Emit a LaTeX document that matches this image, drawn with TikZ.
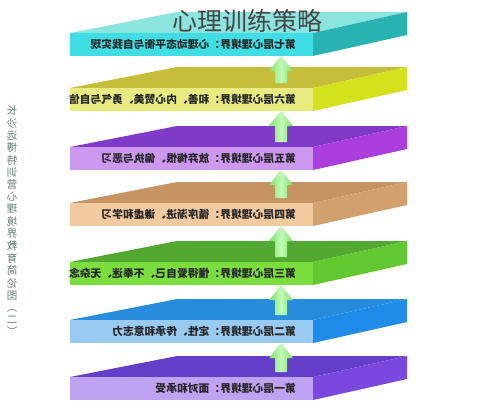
\documentclass[tikz,border=0pt]{standalone}
\usepackage{fontspec}
\newfontfamily\cjk{Noto Sans CJK SC}
\definecolor{cyTop}{RGB}{140,228,222}
\definecolor{cyFront}{RGB}{62,222,228}
\definecolor{cySide}{RGB}{40,178,178}
\definecolor{yeTop}{RGB}{198,190,58}
\definecolor{yeFront}{RGB}{232,236,128}
\definecolor{yeSide}{RGB}{212,226,30}
\definecolor{puTop}{RGB}{128,58,200}
\definecolor{puFront}{RGB}{204,152,240}
\definecolor{puSide}{RGB}{172,62,222}
\definecolor{orTop}{RGB}{198,148,98}
\definecolor{orFront}{RGB}{242,202,160}
\definecolor{orSide}{RGB}{210,160,110}
\definecolor{grTop}{RGB}{82,168,48}
\definecolor{grFront}{RGB}{124,222,62}
\definecolor{grSide}{RGB}{98,200,48}
\definecolor{blTop}{RGB}{40,140,220}
\definecolor{blFront}{RGB}{152,202,242}
\definecolor{blSide}{RGB}{30,140,232}
\definecolor{viTop}{RGB}{100,62,200}
\definecolor{viFront}{RGB}{192,162,242}
\definecolor{viSide}{RGB}{122,72,222}
\definecolor{arrowG}{RGB}{120,228,100}
\definecolor{arrowL}{RGB}{195,250,185}
\definecolor{sideText}{RGB}{95,125,115}
\definecolor{titleGray}{RGB}{70,70,70}
\newcommand\myslab[6]{%
  \fill[#3] (70,#2) -- (313,#2) -- (407,#2-21) -- (177,#2-21) -- cycle;
  \fill[#5] (313,#2) -- (407,#2-21) -- (407,#2+2) -- (313,#2+23) -- cycle;
  \fill[#4] (70,#2) rectangle (313,#2+23);
  \node[slabtext] (#1) at (296,#2+11.5) {\reflectbox{#6}};
}
\newcommand\myarrow[3]{%
  \coordinate (#1) at (281,#2);
  \shade[left color=arrowG, right color=arrowG, middle color=arrowL]
    (#1) -- ++(12,15) -- ++(-6,0) |- (275,#3) -- (275,#2+15) -- ++(-6,0) -- cycle;
}
\begin{document}
\begin{tikzpicture}[x=1pt,y=-1pt,
  slabtext/.style={anchor=east, inner sep=0pt, font=\cjk\bfseries\fontsize{10.8}{12}\selectfont, text=black!85},
  titletext/.style={inner sep=0pt, font=\cjk\fontsize{25}{28}\selectfont, text=titleGray},
  sidecap/.style={inner sep=0pt, align=center, font=\cjk\fontsize{10.5}{12}\selectfont, text=sideText}]
\useasboundingbox (0,0) rectangle (492,400);
\fill[white] (0,0) rectangle (492,400);
\myslab{s7}{33}{cyTop}{cyFront}{cySide}{第七层心理境界：心理动态平衡与自我实现}
\myslab{s6}{88}{yeTop}{yeFront}{yeSide}{第六层心理境界：和善、内心赞美、勇气与自信}
\myslab{s5}{147}{puTop}{puFront}{puSide}{第五层心理境界：放弃悔恨、偏执与恶习}
\myslab{s4}{203}{orTop}{orFront}{orSide}{第四层心理境界：循序渐进、谦虚和学习}
\myslab{s3}{262}{grTop}{grFront}{grSide}{第三层心理境界：懂得爱自己、不奉迷、无杂念}
\myslab{s2}{320}{blTop}{blFront}{blSide}{第二层心理境界：定性、传承和意志力}
\myslab{s1}{377}{viTop}{viFront}{viSide}{第一层心理境界：面对和承受}
\myarrow{a76}{56}{83}
\myarrow{a65}{111}{142}
\myarrow{a54}{170}{198}
\myarrow{a43}{226}{257}
\myarrow{a32}{285}{315}
\myarrow{a21}{343}{372}
\node[titletext] (title) at (247,21) {心理训练策略};
\node[sidecap, anchor=north] (cap) at (12,106) {\reflectbox{\begin{tabular}{@{}c@{}}长\\沙\\远\\博\\特\\训\\营\\心\\理\\境\\界\\教\\育\\简\\论\\图\\︵\\二\\︶\end{tabular}}};
\end{tikzpicture}
\end{document}
